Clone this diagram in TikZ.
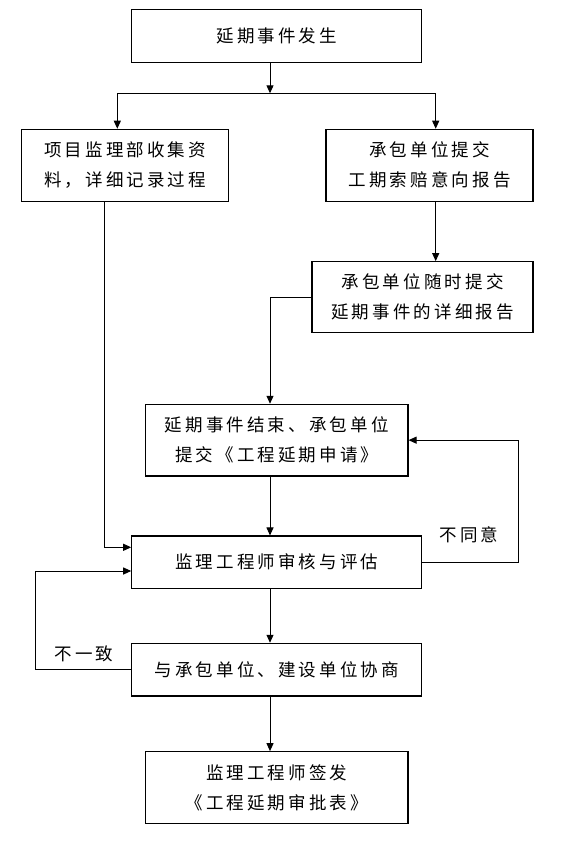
\documentclass[tikz,border=0pt]{standalone}
\usepackage{fontspec}
\usetikzlibrary{arrows.meta}
\newfontfamily\cjk[LetterSpace=18]{Noto Sans CJK SC}
\begin{document}
\begin{tikzpicture}[x=1pt,y=-1pt,
  box/.style={draw=black,line width=1.1pt,inner sep=0pt,align=center,
    font=\cjk\fontsize{17.5}{30}\selectfont},
  lbl/.style={inner sep=0pt,font=\cjk\fontsize{17.5}{30}\selectfont},
  conn/.style={line width=1pt,draw=black},
  arr/.style={conn,-{Triangle[length=8pt,width=7pt]}}]
\useasboundingbox (0,0) rectangle (565,853);
\fill[white] (0,0) rectangle (565,853);
% boxes
\node[box,minimum width=290pt,minimum height=53pt] (b1) at (276.75,35.8) {延期事件发生};
\node[box,minimum width=206.8pt,minimum height=72pt] (b2) at (125.1,165.3) {项目监理部收集资\\料，详细记录过程};
\node[box,minimum width=207pt,minimum height=72pt] (b3) at (429.5,165.3) {承包单位提交\\工期索赔意向报告};
\node[box,minimum width=221pt,minimum height=70.6pt] (b4) at (422.5,297) {承包单位随时提交\\延期事件的详细报告};
\node[box,minimum width=262.5pt,minimum height=71.7pt] (b5) at (276.75,440.15) {延期事件结束、承包单位\\提交《工程延期申请》};
\node[box,minimum width=290pt,minimum height=52.3pt] (b6) at (276.75,562.15) {监理工程师审核与评估};
\node[box,minimum width=290pt,minimum height=52.7pt] (b7) at (276.75,669.65) {与承包单位、建设单位协商};
\node[box,minimum width=262.5pt,minimum height=71.6pt] (b8) at (276.75,787.5) {监理工程师签发\\《工程延期审批表》};
% labels
\node[lbl] (l1) at (469,535) {不同意};
\node[lbl] (l2) at (84,654) {不一致};
% coordinates
\coordinate (s1) at (270,93.3);
\coordinate (sL) at (117.3,93.3);
\coordinate (sR) at (435.7,93.3);
\coordinate (c2) at (104.7,547.3);
\coordinate (c4) at (270,297);
\coordinate (r1) at (518.3,562.15);
\coordinate (r2) at (518.3,440.15);
\coordinate (f1) at (35.4,669.65);
\coordinate (f2) at (35.4,571);
% connectors
\draw[arr] (b1.south -| s1) -- (s1);
\draw[conn] (sL) -- (sR);
\draw[arr] (sL) -- (sL |- b2.north);
\draw[arr] (sR) -- (sR |- b3.north);
\draw[arr] (b3.south -| sR) -- (sR |- b4.north);
\draw[arr] (b4.west) -- (c4) -- (c4 |- b5.north);
\draw[arr] (b5.south -| s1) -- (s1 |- b6.north);
\draw[arr] (c2 |- b2.south) -- (c2) -- (c2 -| b6.west);
\draw[arr] (b6.east) -- (r1) -- (r2) -- (b5.east);
\draw[arr] (b7.west) -- (f1) -- (f2) -- (f2 -| b6.west);
\draw[arr] (b6.south -| s1) -- (s1 |- b7.north);
\draw[arr] (b7.south -| s1) -- (s1 |- b8.north);
\end{tikzpicture}
\end{document}
